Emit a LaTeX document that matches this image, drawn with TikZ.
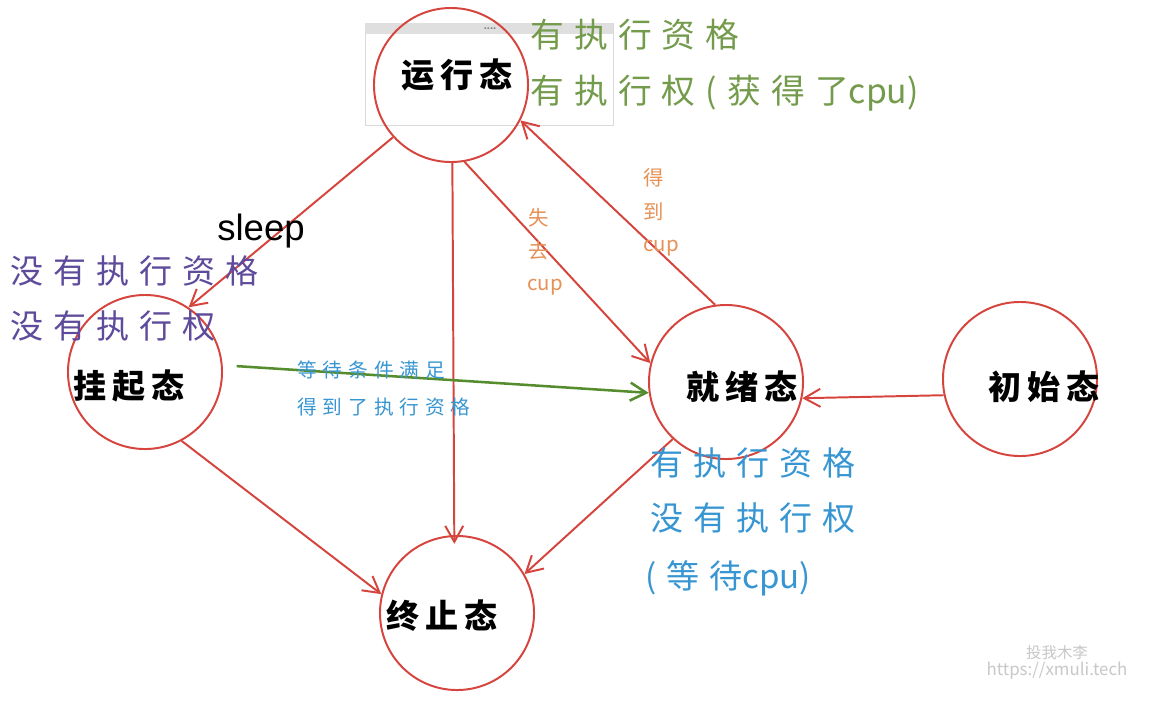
\documentclass[tikz,border=0pt]{standalone}
\usepackage{fontspec}
\setmainfont{Liberation Sans}
\newfontfamily\cjk{Noto Sans CJK SC}
\newfontfamily\cjkn[LetterSpace=18]{Noto Sans CJK SC}
\newfontfamily\cjkw[LetterSpace=30]{Noto Sans CJK SC}
\usetikzlibrary{arrows.meta}
\definecolor{stR}{RGB}{214,68,62}
\definecolor{txG}{RGB}{115,155,75}
\definecolor{arG}{RGB}{85,140,45}
\definecolor{txP}{RGB}{95,75,155}
\definecolor{txB}{RGB}{55,150,210}
\definecolor{txO}{RGB}{230,145,85}
\definecolor{wmk}{RGB}{200,200,200}
\begin{document}
\begin{tikzpicture}[x=0.025cm,y=-0.025cm,
  state/.style={circle,draw=stR,line width=1.4pt,minimum size=3.85cm,inner sep=0pt},
  lbl/.style={font=\cjkn\bfseries\fontsize{23.5pt}{26pt}\selectfont,inner sep=0pt,text=black},
  note/.style={font=\cjkw\fontsize{23.5pt}{26pt}\selectfont,inner sep=0pt,anchor=west},
  small/.style={font=\cjkw\fontsize{14pt}{16pt}\selectfont,inner sep=0pt,anchor=west,text=txB},
  vert/.style={font=\cjk\fontsize{14.5pt}{16pt}\selectfont,inner sep=0pt,text=txO},
  arr/.style={draw=stR,line width=1.4pt,-{Straight Barb[length=0.4cm,width=0.45cm,line width=1.4pt]}},
  garr/.style={draw=arG,line width=1.8pt,-{Straight Barb[length=0.4cm,width=0.45cm,line width=1.8pt]}}]
\useasboundingbox[fill=white] (0,0) rectangle (1162,712);

% window box behind the running state
\draw[gray!30,fill=white] (365,23) rectangle (613,125);
\fill[gray!25] (365,23) rectangle (613,34);
\node[font=\fontsize{8pt}{8pt}\selectfont\bfseries,text=gray,inner sep=0pt] (dots) at (490,29) {....};

% states
\node[state] (run) at (451,85) {};
\node[state] (sus) at (145,372) {};
\node[state] (ready) at (726,382) {};
\node[state] (init) at (1020,379) {};
\node[state] (end) at (457,613) {};

\node[lbl] (runL) at (457,75) {运行态};
\node[lbl] (susL) at (129,386) {挂起态};
\node[lbl] (readyL) at (742,387) {就绪态};
\node[lbl] (initL) at (1044,387) {初始态};
\node[lbl] (endL) at (442,616) {终止态};

% connectors
\draw[arr] (run.222) -- (sus.56);
\draw[arr,shorten >=-0.22cm] (run.271) -- (end.92);
\draw[arr] (run.280) -- (ready.166);
\draw[arr] (ready.98) -- (run.333);
\draw[garr,shorten <=0.35cm] (sus.5) -- (ready.188);
\draw[arr] (sus.298) -- (end.166);
\draw[arr] (ready.227) -- (end.30);
\draw[arr] (init.192) -- (ready.348);

% labels
\node[font=\fontsize{26pt}{28pt}\selectfont,inner sep=0pt,anchor=west] (sleep) at (217,231) {sleep};

\node[note,text=txG,font=\cjkw\fontsize{24pt}{26pt}\selectfont] (g1) at (530,35) {有执行资格};
\node[note,text=txG,font=\cjkw\fontsize{24pt}{26pt}\selectfont] (g2) at (530,93) {有执行权(获得了{\cjk cpu)}};

\node[note,text=txP] (p1) at (10,271) {没有执行资格};
\node[note,text=txP] (p2) at (10,326) {没有执行权};

\node[note,text=txB] (b1) at (650,463) {有执行资格};
\node[note,text=txB] (b2) at (650,518) {没有执行权};
\node[note,text=txB] (b3) at (645,578) {(等待{\cjk cpu)}};

\node[small] (s1) at (297,370) {等待条件满足};
\node[small] (s2) at (297,407) {得到了执行资格};

\node[vert] (o1) at (539,218) {失};
\node[vert] (o2) at (539,251) {去};
\node[vert] (o3) at (545,287) {cup};
\node[vert] (o4) at (654,178) {得};
\node[vert] (o5) at (654,212) {到};
\node[vert] (o6) at (661,248) {cup};

% watermark
\node[font=\cjk\fontsize{11pt}{12pt}\selectfont,text=wmk,inner sep=0pt] (w1) at (1057,653) {投我木李};
\node[font=\cjk\fontsize{12pt}{13pt}\selectfont,text=wmk,inner sep=0pt] (w2) at (1057,671) {https://xmuli.tech};
\end{tikzpicture}
\end{document}
